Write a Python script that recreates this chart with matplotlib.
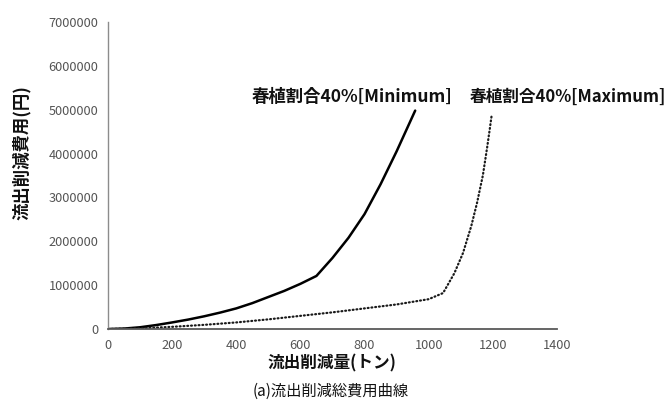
import matplotlib
matplotlib.use("Agg")
import matplotlib.pyplot as plt
from matplotlib.ticker import MultipleLocator, FuncFormatter

plt.rcParams['font.family'] = ['Noto Sans CJK JP', 'DejaVu Sans']

# Reduction amount (t) vs. total reduction cost (yen)
min_x = [0, 50, 100, 150, 200, 250, 300, 350, 400, 450, 500, 550, 600, 650,
         700, 750, 800, 850, 900, 958]
min_y = [0, 10e3, 40e3, 90e3, 150e3, 215e3, 290e3, 375e3, 470e3, 590e3,
         730e3, 870e3, 1030e3, 1210e3, 1620e3, 2080e3, 2620e3, 3300e3,
         4050e3, 4980e3]

max_x = [0, 100, 200, 300, 400, 500, 600, 700, 800, 900, 1000, 1045, 1080,
         1107, 1133, 1151, 1169, 1182, 1191, 1197]
max_y = [0, 15e3, 50e3, 95e3, 150e3, 220e3, 300e3, 380e3, 470e3, 560e3,
         680e3, 820e3, 1270e3, 1730e3, 2350e3, 2880e3, 3500e3, 4120e3,
         4580e3, 4900e3]

label_min = "春植割合40%[Minimum]"
label_max = "春植割合40%[Maximum]"
xlabel = "流出削減量(トン)"
ylabel = "流出削減費用(円)"
caption = "(a)流出削減総費用曲線"

fig = plt.figure(figsize=(6.68, 4.08), dpi=100)
ax = fig.add_axes([0.1617, 0.1936, 0.672, 0.7525])

ax.plot(min_x, min_y, color="black", lw=1.8, solid_joinstyle="round",
        solid_capstyle="round")
ax.plot(max_x, max_y, color="#1a1a1a", lw=1.6, linestyle=(0, (0.4, 1.3)),
        dash_capstyle="round")

ax.set_xlim(0, 1400)
ax.set_ylim(0, 7000000)
ax.xaxis.set_major_locator(MultipleLocator(200))
ax.yaxis.set_major_locator(MultipleLocator(1000000))
ax.yaxis.set_major_formatter(FuncFormatter(lambda v, p: f"{int(v)}"))

for s in ("top", "right"):
    ax.spines[s].set_visible(False)
ax.spines["left"].set_color("#8c8c8c")
ax.spines["left"].set_linewidth(1.0)
ax.spines["bottom"].set_color("#595959")
ax.spines["bottom"].set_linewidth(1.3)
ax.tick_params(length=0, labelsize=9.2, labelcolor="#555555", pad=7)

ax.text(1075, 5300000, label_min, ha="right", va="center", fontsize=12.5,
        fontweight="bold", color="#111111")
ax.text(1129, 5300000, label_max, ha="left", va="center", fontsize=12,
        fontweight="bold", color="#111111")

fig.text(0.032, 0.627, ylabel, rotation=90, ha="center", va="center",
         fontsize=12.5, fontweight="bold", color="#111111")
fig.text(0.497, 0.108, xlabel, ha="center", va="center", fontsize=12,
         fontweight="bold", color="#111111")
fig.text(0.495, 0.042, caption, ha="center", va="center", fontsize=11,
         color="#111111")

fig.savefig("out.png", dpi=100)
